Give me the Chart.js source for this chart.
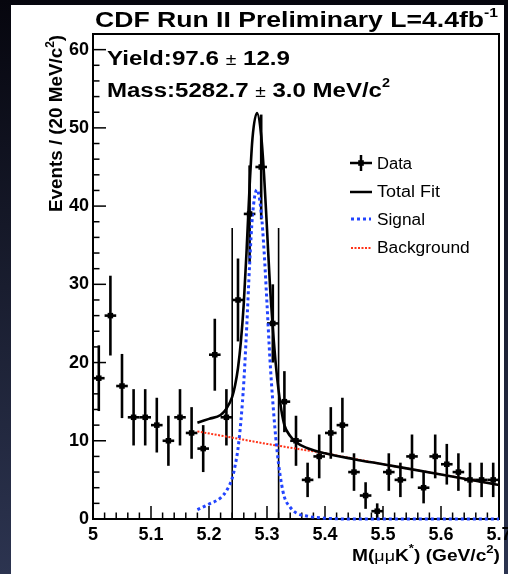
<!DOCTYPE html>
<html>
<head>
<meta charset="utf-8">
<script src="https://cdn.jsdelivr.net/npm/chart.js@4/dist/chart.umd.min.js"></script>
<style>
  html, body { margin: 0; padding: 0; background: #10121f; overflow: hidden; }
</style>
</head>
<body>
<canvas id="chart" width="508" height="574"></canvas>
<script>
// histogram: 20 MeV bins
const binCenters = [5.01, 5.03, 5.05, 5.07, 5.09, 5.11, 5.13, 5.15, 5.17, 5.19,
                    5.21, 5.23, 5.25, 5.27, 5.29, 5.31, 5.33, 5.35, 5.37, 5.39,
                    5.41, 5.43, 5.45, 5.47, 5.49, 5.51, 5.53, 5.55, 5.57, 5.59,
                    5.61, 5.63, 5.65, 5.67, 5.69];
const counts = [18, 26, 17, 13, 13, 12, 10, 13, 11, 9,
                21, 13, 28, 39, 45, 25, 15, 10, 5, 8,
                11, 12, 6, 3, 1, 6, 5, 8, 4, 8,
                7, 6, 5, 5, 5];
const countErrors = [4.2, 5.1, 4.1, 3.6, 3.6, 3.5, 3.2, 3.6, 3.3, 3.0,
                     4.6, 3.6, 5.3, 6.2, 6.7, 5.0, 3.9, 3.2, 2.2, 2.8,
                     3.3, 3.5, 2.4, 1.7, 1.0, 2.4, 2.2, 2.8, 2.0, 2.8,
                     2.6, 2.4, 2.2, 2.2, 2.2];
const binHalfWidth = 0.01;

// fit curves
const fitX = [5.18, 5.20, 5.22, 5.23, 5.24, 5.245, 5.25, 5.255, 5.26, 5.265,
              5.27, 5.275, 5.2827, 5.29, 5.295, 5.30, 5.305, 5.31, 5.315, 5.32,
              5.325, 5.33, 5.34, 5.35, 5.37, 5.40, 5.45, 5.50, 5.60, 5.70];
const totalFit = [12.3, 12.8, 13.3, 14.1, 15.6, 17.1, 19.3, 22.7, 27.6, 34.6,
                  42.5, 48.7, 51.9, 49.0, 43.9, 37.1, 30.0, 24.5, 19.9, 16.4,
                  13.8, 12.0, 10.6, 9.8, 9.05, 8.4, 7.65, 7.0, 5.7, 4.35];
const signalFit = [1.2, 1.9, 2.7, 3.6, 5.2, 6.8, 9.0, 12.5, 17.5, 24.5,
                   32.5, 38.8, 42.1, 39.2, 34.2, 27.5, 20.5, 15.0, 10.5, 7.0,
                   4.5, 2.8, 1.5, 0.8, 0.35, 0.1, 0, 0, 0, 0];
const bgX = [5.18, 5.30, 5.40, 5.50, 5.60, 5.70];
const bgFit = [11.2, 9.6, 8.4, 7.0, 5.7, 4.35];

// signal window lines
const sigWindow = [5.24, 5.32];
const sigWindowTop = 37.2;

const xTickValues = [5, 5.1, 5.2, 5.3, 5.4, 5.5, 5.6, 5.7];
const xTickLabels = ['5', '5.1', '5.2', '5.3', '5.4', '5.5', '5.6', '5.7'];
const yTickValues = [0, 10, 20, 30, 40, 50, 60];
const yTickLabels = ['0', '10', '20', '30', '40', '50', '60'];

const FONT = "'Liberation Sans', Arial, sans-serif";
Chart.defaults.font.family = FONT;
Chart.defaults.color = '#000';

function pts(xs, ys) {
    return xs.map((x, i) => ({ x: x, y: ys[i] }));
}

// draws a run of text pieces (for superscripts / symbols), stretched to a width
function drawRich(c, parts, x, y, width, align) {
    c.save();
    let total = 0;
    parts.forEach(p => { c.font = p.font; total += c.measureText(p.t).width; });
    const sx = width ? width / total : 1;
    c.translate(align === 'right' ? x - total * sx : x, y);
    c.scale(sx, 1);
    let cx = 0;
    c.fillStyle = '#000';
    c.textBaseline = 'alphabetic';
    parts.forEach(p => {
        c.font = p.font;
        c.fillText(p.t, cx, p.dy || 0);
        cx += c.measureText(p.t).width;
    });
    c.restore();
}

function line(c, x1, y1, x2, y2) {
    c.beginPath();
    c.moveTo(x1, y1);
    c.lineTo(x2, y2);
    c.stroke();
}

const rootStyle = {
    id: 'rootStyle',
    beforeDraw(chart) {
        const c = chart.ctx;
        const g = c.createLinearGradient(0, 0, 0, chart.height);
        g.addColorStop(0, '#06060e');
        g.addColorStop(1, '#2c3450');
        c.save();
        c.fillStyle = g;
        c.fillRect(0, 0, chart.width, chart.height);
        c.fillStyle = '#fff';
        c.fillRect(11, 5, 493, 569);
        c.restore();
    },
    beforeDatasetsDraw(chart) {
        const c = chart.ctx;
        const a = chart.chartArea;
        const xs = chart.scales.x, ys = chart.scales.y;
        c.save();
        c.strokeStyle = '#000';

        // minor / major ticks drawn inside the frame
        c.lineWidth = 1.5;
        for (let i = 0; i <= 35; i++) {
            const px = xs.getPixelForValue(5 + i * 0.02);
            line(c, px, a.bottom, px, a.bottom - (i % 5 === 0 ? 13 : 6.5));
        }
        for (let i = 0; i <= 31; i++) {
            const py = ys.getPixelForValue(i * 2);
            line(c, a.left, py, a.left + (i % 5 === 0 ? 13 : 6.5), py);
        }

        // signal window
        c.lineWidth = 1.6;
        sigWindow.forEach(v => {
            const px = xs.getPixelForValue(v);
            line(c, px, ys.getPixelForValue(0), px, ys.getPixelForValue(sigWindowTop));
        });

        // error bars
        c.beginPath();
        c.rect(a.left, a.top, a.right - a.left, a.bottom - a.top);
        c.clip();
        c.lineWidth = 2.6;
        binCenters.forEach((x, i) => {
            const px = xs.getPixelForValue(x);
            const py = ys.getPixelForValue(counts[i]);
            line(c, px, ys.getPixelForValue(counts[i] - countErrors[i]), px, ys.getPixelForValue(counts[i] + countErrors[i]));
            line(c, xs.getPixelForValue(x - binHalfWidth), py, xs.getPixelForValue(x + binHalfWidth), py);
        });
        c.restore();

        // frame
        c.save();
        c.strokeStyle = '#000';
        c.lineWidth = 2;
        c.strokeRect(a.left, a.top, a.right - a.left, a.bottom - a.top);
        c.restore();
    },
    afterDraw(chart) {
        const c = chart.ctx;
        const B = 'bold ';

        drawRich(c, [
            { t: 'CDF Run II Preliminary L=4.4fb', font: B + '22px ' + FONT },
            { t: '-1', font: B + '13px ' + FONT, dy: -10 }
        ], 95, 27, 403);

        drawRich(c, [
            { t: 'Yield:97.6 ', font: B + '20px ' + FONT },
            { t: '\u00b1', font: '16px ' + FONT },
            { t: ' 12.9', font: B + '20px ' + FONT }
        ], 107, 65, 183);

        drawRich(c, [
            { t: 'Mass:5282.7 ', font: B + '20px ' + FONT },
            { t: '\u00b1', font: '16px ' + FONT },
            { t: ' 3.0 MeV/c', font: B + '20px ' + FONT },
            { t: '2', font: B + '12px ' + FONT, dy: -10 }
        ], 107, 97, 283);

        // x axis title
        drawRich(c, [
            { t: 'M(', font: B + '16px ' + FONT },
            { t: '\u03bc\u03bc', font: '15px ' + FONT },
            { t: 'K', font: B + '16px ' + FONT },
            { t: '*', font: B + '11px ' + FONT, dy: -9 },
            { t: ') (GeV/c', font: B + '16px ' + FONT },
            { t: '2', font: B + '11px ' + FONT, dy: -8 },
            { t: ')', font: B + '16px ' + FONT }
        ], 500, 561, 148, 'right');

        // y axis title
        c.save();
        c.translate(62, 212);
        c.rotate(-Math.PI / 2);
        drawRich(c, [
            { t: 'Events / (20 MeV/c', font: B + '19px ' + FONT },
            { t: '2', font: B + '12px ' + FONT, dy: -8 },
            { t: ')', font: B + '19px ' + FONT }
        ], 0, 0, 177);
        c.restore();

        // legend
        c.save();
        c.strokeStyle = '#000';
        c.lineWidth = 2.5;
        line(c, 350, 163, 372, 163);
        line(c, 361, 155, 361, 171);
        c.fillStyle = '#000';
        c.fillRect(358.2, 160.2, 5.6, 5.6);
        line(c, 350, 192, 372, 192);
        c.strokeStyle = chart.data.datasets[2].borderColor;
        c.lineWidth = 3;
        c.setLineDash([3, 3]);
        line(c, 351, 219, 371, 219);
        c.strokeStyle = chart.data.datasets[3].borderColor;
        c.lineWidth = 2;
        c.setLineDash([2, 1.5]);
        line(c, 351, 248, 371, 248);
        c.restore();
        const legendLabels = chart.data.datasets.map(d => d.label);
        const legendY = [168.5, 197, 224.5, 253];
        const legendW = [35, 63, 48, 92.7];
        legendLabels.forEach((t, i) => {
            drawRich(c, [{ t: t, font: '16px ' + FONT }], 377, legendY[i], legendW[i]);
        });
    }
};

const ctx = document.getElementById('chart').getContext('2d');
const myChart = new Chart(ctx, {
    type: 'scatter',
    data: {
        datasets: [
            {
                label: 'Data',
                data: pts(binCenters, counts),
                pointStyle: 'rect',
                pointRadius: 3.9,
                backgroundColor: '#000',
                borderWidth: 0
            },
            {
                label: 'Total Fit',
                type: 'line',
                data: pts(fitX, totalFit),
                borderColor: '#000',
                borderWidth: 2.6,
                pointRadius: 0,
                fill: false,
                cubicInterpolationMode: 'monotone'
            },
            {
                label: 'Signal',
                type: 'line',
                data: pts(fitX, signalFit),
                borderColor: '#2244ff',
                borderWidth: 3,
                borderDash: [3, 3],
                pointRadius: 0,
                fill: false,
                cubicInterpolationMode: 'monotone',
                clip: { left: 0, top: 0, right: 0, bottom: 3 }
            },
            {
                label: 'Background',
                type: 'line',
                data: pts(bgX, bgFit),
                borderColor: '#ff3318',
                borderWidth: 2,
                borderDash: [2, 1.5],
                pointRadius: 0,
                fill: false,
                tension: 0
            }
        ]
    },
    options: {
        responsive: false,
        animation: false,
        devicePixelRatio: 1,
        layout: { padding: { left: 0, right: 9, top: 34, bottom: 0 } },
        plugins: {
            legend: { display: false },
            tooltip: { enabled: false }
        },
        scales: {
            x: {
                type: 'linear',
                min: 5,
                max: 5.7,
                grid: { display: false, drawTicks: false },
                border: { display: false },
                ticks: {
                    autoSkip: false,
                    maxRotation: 0,
                    padding: 5,
                    font: { size: 18, weight: 'bold' },
                    callback: (v) => xTickLabels[xTickValues.findIndex(t => Math.abs(t - v) < 1e-6)]
                },
                afterBuildTicks(s) { s.ticks = xTickValues.map(v => ({ value: v })); },
                afterFit(s) { s.height = 55; s.paddingLeft = 0; s.paddingRight = 0; }
            },
            y: {
                min: 0,
                max: 62,
                grid: { display: false, drawTicks: false },
                border: { display: false },
                ticks: {
                    autoSkip: false,
                    padding: 4,
                    font: { size: 18, weight: 'bold' },
                    callback: (v) => yTickLabels[yTickValues.indexOf(v)]
                },
                afterBuildTicks(s) { s.ticks = yTickValues.map(v => ({ value: v })); },
                afterFit(s) { s.width = 93; s.paddingTop = 0; s.paddingBottom = 0; }
            }
        }
    },
    plugins: [rootStyle]
});
</script>
</body>
</html>
